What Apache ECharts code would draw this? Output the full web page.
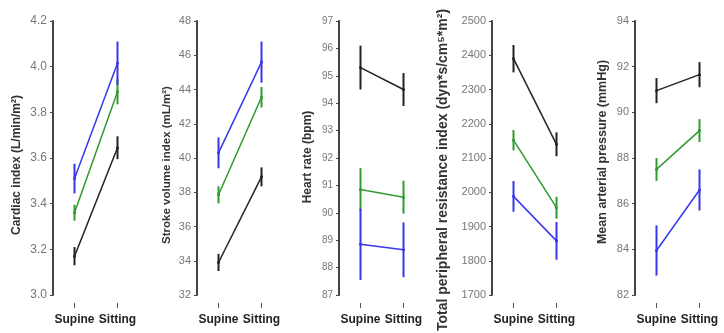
<!DOCTYPE html>
<html>
<head>
<meta charset="utf-8">
<script src="https://cdn.jsdelivr.net/npm/echarts@6/dist/echarts.min.js"></script>
<style>
html,body{margin:0;padding:0;background:#fff;}
#c{width:724px;height:333px;}
</style>
</head>
<body>
<div id="c"></div>
<script>
// ---- data ----
const categories = ['Supine', 'Sitting'];

// Panel 1: Cardiac index
const ciBlack = [3.17, 3.645], ciBlackSE = [0.04, 0.05];
const ciGreen = [3.36, 3.89],  ciGreenSE = [0.035, 0.055];
const ciBlue  = [3.51, 4.015], ciBlueSE  = [0.065, 0.095];

// Panel 2: Stroke volume index
const sviBlack = [33.9, 38.9],  sviBlackSE = [0.5, 0.55];
const sviGreen = [37.85, 43.55], sviGreenSE = [0.5, 0.6];
const sviBlue  = [40.3, 45.6],  sviBlueSE  = [0.9, 1.2];

// Panel 3: Heart rate
const hrBlack = [95.3, 94.5],   hrBlackSE = [0.8, 0.6];
const hrGreen = [90.85, 90.57], hrGreenSE = [0.78, 0.6];
const hrBlue  = [88.85, 88.65], hrBlueSE  = [1.3, 1.0];

// Panel 4: Total peripheral resistance index
const tpriBlack = [2390, 2140], tpriBlackSE = [40, 35];
const tpriGreen = [2152, 1955], tpriGreenSE = [30, 32];
const tpriBlue  = [1988, 1858], tpriBlueSE  = [45, 55];

// Panel 5: Mean arterial pressure
const mapBlack = [90.95, 91.65], mapBlackSE = [0.55, 0.55];
const mapGreen = [87.5, 89.2],   mapGreenSE = [0.5, 0.5];
const mapBlue  = [83.95, 86.6],  mapBlueSE  = [1.1, 0.9];

// axis titles and tick ranges [min, max, interval, decimals]
const axisTitles = [
  'Cardiac index (L/min/m\u00B2)',
  'Stroke volume index (mL/m\u00B2)',
  'Heart rate (bpm)',
  'Total peripheral resistance index (dyn*s/cm\u2075*m\u00B2)',
  'Mean arterial pressure (mmHg)'
];
const yTicks = [
  [3.0, 4.2, 0.2, 1],
  [32, 48, 2, 0],
  [87, 97, 1, 0],
  [1700, 2500, 100, 0],
  [82, 94, 2, 0]
];

// ---- layout/style ----
const colors = {black: '#222222', green: '#2f9a2f', blue: '#3636ee'};
const gridLefts = [53, 197, 339, 492, 635];
const nameGaps = [30, 24, 25, 42, 26];
const labelSizes = [12, 11, 10, 11, 11];
const nameSizes = [12, 11.5, 12, 14, 12.5];
const namePads = [[0, 14, 0, 0], [0, 14, 0, 0], [0, 0, 0, 2], [0, 24, 0, 0], [0, 0, 0, 12]];

const panels = [
  [[ciBlack, ciBlackSE, 'black'], [ciGreen, ciGreenSE, 'green'], [ciBlue, ciBlueSE, 'blue']],
  [[sviBlack, sviBlackSE, 'black'], [sviGreen, sviGreenSE, 'green'], [sviBlue, sviBlueSE, 'blue']],
  [[hrBlack, hrBlackSE, 'black'], [hrGreen, hrGreenSE, 'green'], [hrBlue, hrBlueSE, 'blue']],
  [[tpriBlack, tpriBlackSE, 'black'], [tpriGreen, tpriGreenSE, 'green'], [tpriBlue, tpriBlueSE, 'blue']],
  [[mapBlack, mapBlackSE, 'black'], [mapGreen, mapGreenSE, 'green'], [mapBlue, mapBlueSE, 'blue']]
];

const grids = [], xAxes = [], yAxes = [], series = [];
panels.forEach((panel, p) => {
  grids.push({left: gridLefts[p], width: 86, top: 21, height: 274, containLabel: false, outerBoundsMode: 'none'});
  xAxes.push({
    type: 'category', gridIndex: p, data: categories, boundaryGap: true, offset: 8,
    axisLine: {show: false},
    axisTick: {show: true, alignWithLabel: true, length: 5, lineStyle: {color: '#555', width: 1}},
    axisLabel: {color: '#222', fontWeight: 'bold', fontSize: 12, margin: 11, fontFamily: 'Liberation Sans, Arial, sans-serif', interval: 0}
  });
  const t = yTicks[p];
  yAxes.push({
    type: 'value', gridIndex: p, min: t[0], max: t[1], interval: t[2],
    name: axisTitles[p], nameLocation: 'middle', nameGap: nameGaps[p],
    nameTextStyle: {color: '#333', fontWeight: 'bold', fontSize: nameSizes[p], padding: namePads[p],
      fontFamily: 'Liberation Sans, Arial, sans-serif'},
    axisLine: {show: true, lineStyle: {color: '#444', width: 2}},
    axisTick: {show: true, length: 3, inside: false, lineStyle: {color: '#444', width: 1}},
    splitLine: {show: false},
    axisLabel: {color: '#777', fontSize: labelSizes[p], margin: 6, fontFamily: 'Liberation Sans, Arial, sans-serif',
      formatter: v => v.toFixed(t[3])}
  });
  panel.forEach(([vals, se, col]) => {
    const c = colors[col];
    series.push({
      type: 'line', xAxisIndex: p, yAxisIndex: p, data: vals,
      symbol: 'circle', symbolSize: 3, showSymbol: true,
      itemStyle: {color: c}, lineStyle: {color: c, width: 1.5}, z: 3, silent: true
    });
    series.push({
      type: 'custom', xAxisIndex: p, yAxisIndex: p,
      data: vals.map((v, i) => [i, v - se[i], v + se[i]]),
      encode: {x: 0, y: [1, 2]},
      renderItem: (params, api) => {
        const a = api.coord([api.value(0), api.value(1)]);
        const b = api.coord([api.value(0), api.value(2)]);
        return {type: 'line', shape: {x1: a[0], y1: a[1], x2: b[0], y2: b[1]},
          style: {stroke: c, lineWidth: 2}};
      },
      z: 2, silent: true
    });
  });
});

const chart = echarts.init(document.getElementById('c'), null, {renderer: 'canvas'});
chart.setOption({
  animation: false,
  backgroundColor: '#fff',
  grid: grids, xAxis: xAxes, yAxis: yAxes, series: series
});
</script>
</body>
</html>
